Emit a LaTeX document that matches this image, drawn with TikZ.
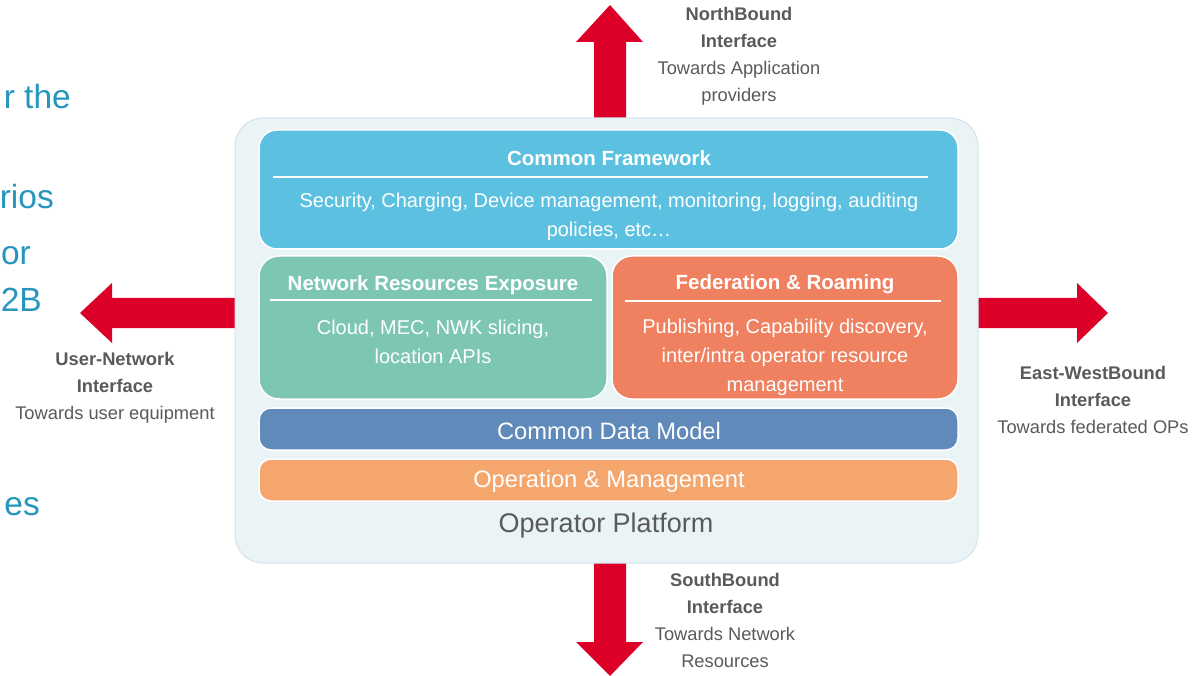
\documentclass[tikz,border=0pt]{standalone}
\usepackage{fontspec}
\setmainfont{Liberation Sans}
\definecolor{opred}{HTML}{DC0029}
\definecolor{platfill}{HTML}{EAF4F6}
\definecolor{platedge}{HTML}{D3E5EA}
\definecolor{cfblue}{HTML}{5CC1E1}
\definecolor{nrgreen}{HTML}{7EC6B4}
\definecolor{frorange}{HTML}{EF8161}
\definecolor{cdmblue}{HTML}{5F8AB9}
\definecolor{omorange}{HTML}{F4A66D}
\definecolor{labgray}{HTML}{5A5A5A}
\definecolor{slideteal}{HTML}{2696BE}
\tikzset{
  layer/.style={draw=white, line width=1.5pt},
  titletext/.style={text=white, font=\fontsize{20.5}{24}\selectfont\bfseries, inner sep=0pt},
  bodytext/.style={text=white, font=\fontsize{20}{29}\selectfont, align=center, inner sep=0pt},
  bartext/.style={text=white, font=\fontsize{23.7}{28}\selectfont, inner sep=0pt},
  rule/.style={white, line width=2.5pt},
  redarrow/.style={fill=opred, draw=none},
  iflabel/.style={text=labgray, font=\fontsize{18.3}{27}\selectfont, align=center, inner sep=0pt},
  slidetext/.style={text=slideteal, font=\fontsize{33.5}{40}\selectfont, anchor=base east, inner sep=0pt}
}
\begin{document}
\begin{tikzpicture}[x=1pt,y=-1pt]
\useasboundingbox (0,0) rectangle (1199,676);
\fill[white] (0,0) rectangle (1199,676);

% partial slide text on the left
\node[slidetext] (s1) at (71,109) {r the};
\node[slidetext] (s2) at (54,209) {rios};
\node[slidetext] (s3) at (31,265) {or};
\node[slidetext] (s4) at (42,312) {2B};
\node[slidetext] (s5) at (40,515) {es};

% arrows
\fill[redarrow] (594,118) -- (594,42) -- (576,42) -- (610,5) -- (643,42) -- (626,42) -- (626,118) -- cycle;
\fill[redarrow] (594,563) -- (594,642) -- (576,642) -- (610,676) -- (643,642) -- (626,642) -- (626,563) -- cycle;
\fill[redarrow] (236,298) -- (112,298) -- (112,283) -- (80,313) -- (112,343) -- (112,328) -- (236,328) -- cycle;
\fill[redarrow] (977,298) -- (1077,298) -- (1077,283) -- (1108,313) -- (1077,343) -- (1077,328) -- (977,328) -- cycle;

% platform
\draw[fill=platfill, draw=platedge, line width=1pt, rounded corners=28pt] (235,118) rectangle (978,563);

% common framework
\draw[layer, fill=cfblue, rounded corners=18pt] (259,130) rectangle (958,249);
\node[titletext] (cft) at (609,158) {Common Framework};
\draw[rule] (273,177) -- (928,177);
\node[bodytext] (cfb) at (609,217) {Security, Charging, Device management, monitoring, logging, auditing\\policies, etc…};

% network resources exposure
\draw[layer, fill=nrgreen, rounded corners=20pt] (259,256) rectangle (607,399);
\node[titletext] (nrt) at (433,285) {Network Resources Exposure};
\draw[rule] (270,300) -- (592,300);
\node[bodytext] (nrb) at (433,342) {Cloud, MEC, NWK slicing,\\location APIs};

% federation & roaming
\draw[layer, fill=frorange, rounded corners=20pt] (612,256) rectangle (958,399);
\node[titletext] (frt) at (785,284) {Federation \& Roaming};
\draw[rule] (625,301) -- (941,301);
\node[bodytext] (frb) at (785,357) {Publishing, Capability discovery,\\inter/intra operator resource\\management};

% bars
\draw[layer, fill=cdmblue, rounded corners=12pt] (259,408) rectangle (958,450);
\node[bartext] (cdm) at (609,431) {Common Data Model};
\draw[layer, fill=omorange, rounded corners=12pt] (259,459) rectangle (958,501);
\node[bartext] (om) at (609,481) {Operation \& Management};
\node[text=labgray, font=\fontsize{27}{32}\selectfont, inner sep=0pt] (opp) at (606,526) {Operator Platform};

% interface labels
\node[iflabel] (nb) at (739,56) {\textbf{NorthBound}\\\textbf{Interface}\\Towards Application\\providers};
\node[iflabel] (sb) at (725,620) {\textbf{SouthBound}\\\textbf{Interface}\\Towards Network\\Resources};
\node[iflabel] (un) at (115,388) {\textbf{User-Network}\\\textbf{Interface}\\Towards user equipment};
\node[iflabel] (ew) at (1093,400) {\textbf{East-WestBound}\\\textbf{Interface}\\Towards federated OPs};
\end{tikzpicture}
\end{document}
